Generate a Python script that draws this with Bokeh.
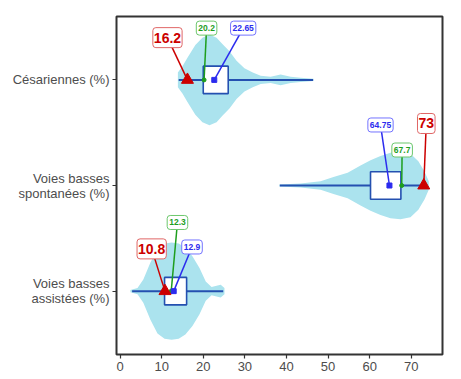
from bokeh.plotting import figure
from bokeh.models import Range1d, FixedTicker, Label
from bokeh.embed import file_html
from bokeh.resources import INLINE

# ---------------- data ----------------
categories = ["Voies basses\nassistées (%)", "Voies basses\nspontanées (%)", "Césariennes (%)"]
cat_pos = [1, 2, 3]
whisker_low = [2.9, 38.4, 14.1]
whisker_high = [24.8, 73.8, 46.4]
q1 = [10.7, 60.2, 20.0]
q3 = [16.0, 67.5, 26.0]
medians = [12.3, 67.7, 20.2]
means = [12.9, 64.75, 22.65]
reference = [10.8, 73.0, 16.2]

median_labels = ["12.3", "67.7", "20.2"]
mean_labels = ["12.9", "64.75", "22.65"]
reference_labels = ["10.8", "73", "16.2"]

# violin profiles (value, half-width in category units)
viol_assist_x = [2.5, 4.2, 5.6, 7.3, 9.0, 10.7, 12.4, 14.1, 15.7, 17.4, 19.1, 20.6, 22.0, 23.2, 24.2, 25.1]
viol_assist_w = [0.01, 0.03, 0.11, 0.27, 0.40, 0.45, 0.46, 0.45, 0.41, 0.33, 0.22, 0.09, 0.04, 0.05, 0.06, 0.03]
viol_spont_x = [38.3, 43.4, 48.2, 51.3, 54.7, 57.8, 60.2, 62.6, 65.0, 67.4, 69.8, 71.7, 73.2, 74.2]
viol_spont_w = [0.01, 0.02, 0.04, 0.08, 0.12, 0.19, 0.24, 0.28, 0.31, 0.32, 0.30, 0.23, 0.13, 0.04]
viol_cesar_x = [13.9, 15.0, 16.2, 18.1, 19.8, 21.5, 23.2, 24.6, 26.3, 28.0, 29.9, 31.9, 33.8, 36.2, 38.6, 41.0, 43.4, 46.5]
viol_cesar_w = [0.07, 0.13, 0.21, 0.33, 0.40, 0.43, 0.40, 0.34, 0.27, 0.18, 0.11, 0.07, 0.04, 0.03, 0.05, 0.03, 0.02, 0.01]

x_ticks = [0, 10, 20, 30, 40, 50, 60, 70]

# ---------------- label layout (data coords of label centres) ----------------
median_lab_x = [13.8, 67.8, 20.8]
median_lab_y = [1.65, 2.336, 3.49]
mean_lab_x = [17.3, 62.6, 29.6]
mean_lab_y = [1.418, 2.573, 3.49]
ref_lab_x = [7.6, 73.6, 11.4]
ref_lab_y = [1.40, 2.587, 3.40]

# ---------------- styles ----------------
VIOLIN = "#ABE3EE"
BLUE_DARK = "#2450B0"
BLUE = "#2B2BEE"
BLUE_BORDER = "#7373FF"
GREEN = "#1E9E1E"
GREEN_BORDER = "#6CC76C"
RED = "#CC0000"
RED_BORDER = "#E06666"
FONT = "Liberation Sans"

p = figure(width=453, height=376, output_backend="svg", toolbar_location=None,
           x_range=Range1d(-0.85, 77.5), y_range=Range1d(0.4, 3.6),
           min_border_left=116, min_border_right=11, min_border_top=16, min_border_bottom=22)
p.background_fill_color = "white"
p.border_fill_color = "white"
p.outline_line_color = "#333333"
p.outline_line_width = 2
p.xgrid.visible = False
p.ygrid.visible = False

# violins
for c, xs, ws in [(1, viol_assist_x, viol_assist_w), (2, viol_spont_x, viol_spont_w), (3, viol_cesar_x, viol_cesar_w)]:
    p.varea(x=xs, y1=[c - w for w in ws], y2=[c + w for w in ws], fill_color=VIOLIN, fill_alpha=1.0)

# whisker lines
p.segment(x0=whisker_low, x1=whisker_high, y0=cat_pos, y1=cat_pos, line_color=BLUE_DARK, line_width=2)

# boxes
p.quad(left=q1, right=q3, bottom=[c - 0.13 for c in cat_pos], top=[c + 0.13 for c in cat_pos],
       fill_color="white", line_color=BLUE_DARK, line_width=1.6)

# label connectors
p.segment(x0=medians, y0=cat_pos, x1=median_lab_x, y1=median_lab_y, line_color=GREEN, line_width=1.5)
p.segment(x0=means, y0=cat_pos, x1=mean_lab_x, y1=mean_lab_y, line_color=BLUE, line_width=1.5)
p.segment(x0=reference, y0=cat_pos, x1=ref_lab_x, y1=ref_lab_y, line_color=RED, line_width=1.5)

# points
p.scatter(x=medians, y=cat_pos, marker="circle", size=4, fill_color=GREEN, line_color=GREEN)
p.scatter(x=means, y=cat_pos, marker="square", size=5, fill_color=BLUE, line_color=BLUE)
p.scatter(x=reference, y=cat_pos, marker="triangle", size=12, fill_color=RED, line_color=RED)

# labels
def add_label(x, y, txt, color, border, size, pad):
    p.add_layout(Label(x=x, y=y, x_units="data", y_units="data", text=txt,
                       text_align="center", text_baseline="middle",
                       text_font=FONT, text_font_style="bold", text_font_size=size,
                       text_color=color, background_fill_color="white",
                       border_line_color=border, border_line_width=1,
                       border_radius=3, padding=pad))

for i in range(3):
    add_label(median_lab_x[i], median_lab_y[i], median_labels[i], GREEN, GREEN_BORDER, "8.5px", (2, 4))
    add_label(mean_lab_x[i], mean_lab_y[i], mean_labels[i], BLUE, BLUE_BORDER, "8.5px", (2, 4))
    add_label(ref_lab_x[i], ref_lab_y[i], reference_labels[i], RED, RED_BORDER, "14px", (1, 5))

# axes
p.xaxis.ticker = FixedTicker(ticks=x_ticks)
p.yaxis.ticker = FixedTicker(ticks=cat_pos)
p.yaxis.major_label_overrides = {c: lab for c, lab in zip(cat_pos, categories)}
p.yaxis.major_label_text_line_height = 1.0
for ax in (p.xaxis[0], p.yaxis[0]):
    ax.axis_line_color = None
    ax.major_tick_line_color = "#333333"
    ax.major_tick_line_width = 1.2
    ax.major_tick_in = 0
    ax.major_tick_out = 4
    ax.minor_tick_line_color = None
    ax.major_label_text_font = FONT
    ax.major_label_text_font_size = "13px"
    ax.major_label_text_color = "#4D4D4D"
    ax.major_label_standoff = 3

out = file_html(p, INLINE)
open("out.html", "w").write(out)
